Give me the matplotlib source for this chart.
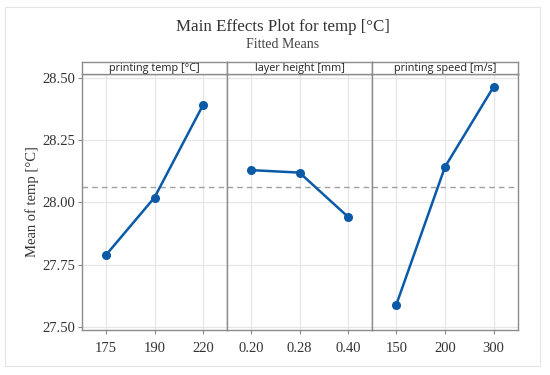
import matplotlib
matplotlib.use("Agg")
import matplotlib.pyplot as plt
from matplotlib.patches import Rectangle

factors = ["printing temp [°C]", "layer height [mm]", "printing speed [m/s]"]
levels_temp = ["175", "190", "220"]
levels_height = ["0.20", "0.28", "0.40"]
levels_speed = ["150", "200", "300"]
means_temp = [27.79, 28.02, 28.39]
means_height = [28.13, 28.12, 27.943]
means_speed = [27.59, 28.143, 28.465]
grand_mean = 28.064
yticks = [27.50, 27.75, 28.00, 28.25, 28.50]

levels = [levels_temp, levels_height, levels_speed]
means = [means_temp, means_height, means_speed]

W, H = 550, 375
fig = plt.figure(figsize=(5.5, 3.75), dpi=100)
fig.patch.set_facecolor("white")

def fx(x):
    return x / W
def fy(y):
    return 1 - y / H

# outer light border
fig.patches.append(Rectangle((fx(5), fy(366)), fx(540 - 5), (366 - 7) / H,
                             transform=fig.transFigure, fill=False,
                             edgecolor="#e4e4e4", linewidth=0.8))

serif = ["Liberation Serif", "DejaVu Serif"]
sans = ["Open Sans", "DejaVu Sans"]
blue = "#0a5aa8"
spine_c = "#8c8c8c"

lefts = [82, 227, 372]
right_end = 518
top, strip_top, bottom = 74, 62, 330
for i in range(3):
    x0 = lefts[i]
    x1 = lefts[i + 1] if i < 2 else right_end
    ax = fig.add_axes([fx(x0), fy(bottom), fx(x1 - x0), (bottom - top) / H])
    xs = list(range(len(levels[i])))
    ax.plot(xs, means[i], color=blue, linewidth=1.8, marker="o", markersize=5.5, zorder=3)
    ax.axhline(grand_mean, color="#a0a0a0", linestyle=(0, (4, 3)), linewidth=1.0, zorder=2)
    ax.set_xlim(-0.5, 2.5)
    ax.set_ylim(27.488, 28.516)
    ax.set_xticks(xs)
    ax.set_xticklabels(levels[i], fontfamily=serif, fontsize=10.5, color="#333333")
    ax.set_yticks(yticks)
    ax.grid(True, color="#e6e6e6", linewidth=0.9, zorder=0)
    ax.set_axisbelow(True)
    for s in ax.spines.values():
        s.set_color(spine_c)
        s.set_linewidth(1.0)
    ax.tick_params(axis="x", length=3, color=spine_c, pad=6)
    if i == 0:
        ax.set_yticklabels(["%.2f" % v for v in yticks], fontfamily=serif, fontsize=10.5, color="#333333")
        ax.tick_params(axis="y", length=3, color=spine_c, pad=2)
        ax.set_ylabel("Mean of temp [°C]", fontfamily=serif, fontsize=10.5, color="#333333", labelpad=2)
    else:
        ax.tick_params(axis="y", length=0, labelleft=False)
    # strip
    sx = fig.add_axes([fx(x0), fy(top), fx(x1 - x0), (top - strip_top) / H])
    sx.set_xticks([]); sx.set_yticks([])
    sx.set_facecolor("white")
    for s in sx.spines.values():
        s.set_color(spine_c)
        s.set_linewidth(1.0)
    sx.text(0.5, 0.42, factors[i], transform=sx.transAxes, ha="center", va="center",
            fontfamily=sans, fontsize=7.8, fontweight="medium", color="#222222")

fig.text(fx(283), fy(27), "Main Effects Plot for temp [°C]", ha="center", va="center",
         fontfamily=serif, fontsize=12.2, color="#333333")
fig.text(fx(283), fy(44), "Fitted Means", ha="center", va="center",
         fontfamily=serif, fontsize=10, color="#444444")

fig.savefig("out.png", dpi=100)
